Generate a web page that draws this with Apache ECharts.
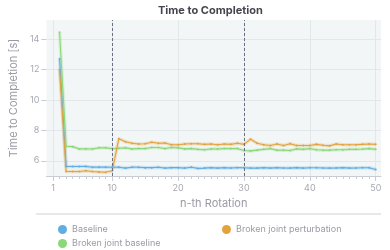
<!DOCTYPE html>
<html>
<head>
<meta charset="utf-8">
<script src="https://cdn.jsdelivr.net/npm/echarts@6/dist/echarts.min.js"></script>
<style>html,body{margin:0;padding:0;background:#fff}#c{width:390px;height:250px}</style>
</head>
<body>
<div id="c"></div>
<script>
const rotations = [2,3,4,5,6,7,8,9,10,11,12,13,14,15,16,17,18,19,20,21,22,23,24,25,26,27,28,29,30,31,32,33,34,35,36,37,38,39,40,41,42,43,44,45,46,47,48,49,50];
const baseline = [12.7,5.63,5.62,5.62,5.63,5.58,5.58,5.58,5.57,5.58,5.52,5.58,5.57,5.55,5.55,5.57,5.52,5.55,5.55,5.52,5.57,5.50,5.52,5.55,5.52,5.55,5.53,5.55,5.54,5.52,5.52,5.55,5.52,5.55,5.53,5.52,5.55,5.52,5.54,5.54,5.53,5.52,5.53,5.55,5.52,5.53,5.54,5.54,5.43];
const brokenBaseline = [14.45,6.95,6.93,6.78,6.78,6.77,6.85,6.85,6.80,6.82,6.85,6.78,6.80,6.80,6.87,6.87,6.80,6.87,6.85,6.78,6.80,6.75,6.72,6.78,6.77,6.80,6.80,6.80,6.68,6.65,6.70,6.75,6.80,6.70,6.70,6.68,6.78,6.75,6.80,6.72,6.70,6.70,6.72,6.72,6.75,6.75,6.77,6.80,6.75];
const brokenPerturb = [12.0,5.30,5.30,5.30,5.35,5.30,5.27,5.25,5.35,7.45,7.25,7.15,7.10,7.12,7.22,7.15,7.17,7.05,7.05,7.10,7.12,7.12,7.08,7.10,7.05,7.10,7.08,7.15,7.08,7.42,7.15,7.05,7.00,7.10,7.00,7.12,7.00,7.00,7.00,7.08,7.02,6.98,7.10,7.05,7.05,7.05,7.08,7.10,7.08];
const xTicks = [1,10,20,30,40,50];
const xMinorTicks = [2,3,4,5,6,7,8,9,11,12,13,14,15,16,17,18,19,21,22,23,24,25,26,27,28,29,31,32,33,34,35,36,37,38,39,41,42,43,44,45,46,47,48,49];
const yTicks = [6,8,10,12,14];
const phaseLines = [10,30];

const names = ['Baseline','Broken joint baseline','Broken joint perturbation'];
const colors = ['#5eaee3','#8bd878','#e3a33c'];
const values = [baseline, brokenBaseline, brokenPerturb];

const chart = echarts.init(document.getElementById('c'), null, {renderer:'canvas'});
const series = [];
values.forEach((vals, i) => {
  const data = rotations.map((r, j) => [r, vals[j]]);
  series.push({
    type:'line', name: names[i] + ' band', data, xAxisIndex:0, yAxisIndex:0,
    symbol:'none', silent:true, z:1,
    lineStyle:{color:colors[i], width:3.5, opacity:0.25}, itemStyle:{color:colors[i]}
  });
  series.push({
    type:'line', name: names[i], data, xAxisIndex:0, yAxisIndex:0,
    symbol:'circle', symbolSize:2, z:3,
    lineStyle:{color:colors[i], width:1.1}, itemStyle:{color:colors[i]},
    markLine: i === 0 ? {
      silent:true, symbol:['none','none'], label:{show:false},
      lineStyle:{color:'#6b6f82', type:[3,2], width:1},
      data: phaseLines.map(v => ({xAxis:v}))
    } : undefined
  });
});

const legendCommon = {icon:'circle', itemWidth:9, itemHeight:9, itemGap:6,
  textStyle:{color:'#9a9aa6', fontSize:9, fontFamily:'Inter'}};

chart.setOption({
  animation:false,
  title:{text:'Time to Completion', left:153, top:0,
    textStyle:{fontSize:11, fontWeight:'bold', color:'#45454f', fontFamily:'Inter'}},
  grid:{left:36, right:9, top:20, bottom:74, show:true, backgroundColor:'#f2f6f7', borderWidth:0},
  xAxis:[{
    type:'value', min:0, max:50.8,
    name:'n-th Rotation', nameLocation:'middle', nameGap:22,
    nameTextStyle:{color:'#9a9aa6', fontSize:11, fontFamily:'Inter'},
    axisLine:{show:true, onZero:false, lineStyle:{color:'#c9ccd3'}},
    axisTick:{show:true, customValues:xTicks, length:5, lineStyle:{color:'#c9ccd3'}},
    axisLabel:{customValues:xTicks, color:'#a8a8b2', fontSize:9, margin:8, fontFamily:'Inter'},
    splitLine:{show:true, lineStyle:{color:'#e2e7ea', width:1}}
  },{
    type:'value', min:0, max:50.8, position:'bottom',
    axisLine:{show:false},
    axisTick:{show:true, customValues:xMinorTicks, length:3, lineStyle:{color:'#c9ccd3'}},
    axisLabel:{show:false}, splitLine:{show:false}
  }],
  yAxis:{
    type:'value', min:5, max:15.25,
    name:'Time to Completion [s]', nameLocation:'middle', nameGap:22,
    nameTextStyle:{color:'#9a9aa6', fontSize:11, fontFamily:'Inter'},
    axisLine:{show:false},
    axisTick:{show:true, customValues:yTicks, length:5, lineStyle:{color:'#c9ccd3'}},
    axisLabel:{customValues:yTicks, color:'#a8a8b2', fontSize:9, margin:7, fontFamily:'Inter'},
    splitLine:{show:true, lineStyle:{color:'#e2e7ea', width:1}}
  },
  legend:[
    Object.assign({left:53, top:220, data:['Baseline']}, legendCommon),
    Object.assign({left:217, top:220, data:['Broken joint perturbation']}, legendCommon),
    Object.assign({left:53, top:234, data:['Broken joint baseline']}, legendCommon)
  ],
  graphic:[{type:'line', shape:{x1:36, y1:214, x2:381, y2:214}, style:{stroke:'#cfd0da', lineWidth:1}, silent:true}],
  series
});
</script>
</body>
</html>
